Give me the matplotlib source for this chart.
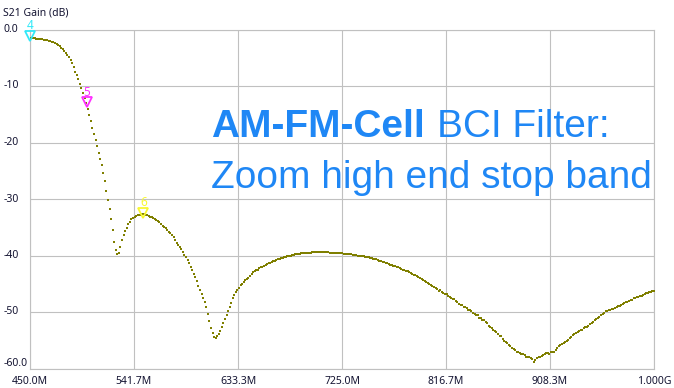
import numpy as np
import matplotlib
matplotlib.use('Agg')
import matplotlib.pyplot as plt
from matplotlib.transforms import offset_copy, blended_transform_factory

# VNA sweep, 401 points from 450 MHz to 1 GHz
start_mhz = 450.0
stop_mhz = 1000.0
freq_mhz = np.linspace(start_mhz, stop_mhz, 401)

# S21 gain (dB)
gain_db = [
    -1.5, -1.5, -1.5, -1.5, -1.6, -1.6, -1.6, -1.7, -1.7, -1.8, -1.8, -1.9, -2.0, -2.1, -2.2, -2.3, -2.4, -2.6, -2.8, -3.0,
    -3.2, -3.5, -3.8, -4.1, -4.5, -4.9, -5.4, -6.0, -6.7, -7.5, -8.1, -8.8, -9.6, -10.3, -11.2, -12.1, -13.0, -14.1, -15.1, -16.2,
    -17.4, -18.5, -19.6, -20.7, -21.8, -22.9, -24.0, -25.4, -26.9, -28.5, -30.1, -31.8, -33.5, -35.5, -37.6, -39.0, -39.8, -39.5, -38.5, -37.3,
    -36.4, -35.7, -35.1, -34.5, -34.0, -33.6, -33.3, -33.1, -33.0, -32.9, -32.8, -32.8, -32.7, -32.7, -32.8, -32.9, -33.0, -33.1, -33.2, -33.3,
    -33.5, -33.7, -33.9, -34.1, -34.4, -34.7, -35.0, -35.2, -35.5, -35.8, -36.1, -36.4, -36.7, -37.2, -37.7, -38.1, -38.5, -38.9, -39.4, -39.9,
    -40.3, -40.8, -41.4, -42.0, -42.6, -43.2, -43.8, -44.6, -45.4, -46.1, -46.8, -47.5, -48.2, -49.2, -50.4, -51.6, -52.8, -53.8, -54.4, -54.6,
    -54.3, -53.9, -53.4, -52.7, -52.0, -51.2, -50.5, -49.8, -49.2, -48.4, -47.6, -47.0, -46.5, -46.1, -45.7, -45.3, -45.0, -44.7, -44.4, -44.1,
    -43.9, -43.6, -43.3, -43.0, -42.8, -42.6, -42.5, -42.3, -42.1, -42.0, -41.8, -41.7, -41.5, -41.4, -41.3, -41.1, -41.0, -40.9, -40.8, -40.7,
    -40.6, -40.5, -40.4, -40.3, -40.2, -40.1, -40.0, -40.0, -39.9, -39.9, -39.8, -39.8, -39.7, -39.7, -39.6, -39.6, -39.6, -39.5, -39.5, -39.5,
    -39.5, -39.4, -39.4, -39.4, -39.4, -39.4, -39.4, -39.4, -39.4, -39.4, -39.4, -39.4, -39.5, -39.5, -39.5, -39.5, -39.5, -39.5, -39.6, -39.6,
    -39.6, -39.7, -39.7, -39.7, -39.8, -39.8, -39.8, -39.9, -39.9, -39.9, -40.0, -40.0, -40.0, -40.1, -40.1, -40.2, -40.3, -40.3, -40.4, -40.5,
    -40.6, -40.6, -40.7, -40.8, -40.9, -41.0, -41.1, -41.2, -41.3, -41.4, -41.5, -41.6, -41.7, -41.8, -41.9, -42.0, -42.1, -42.2, -42.4, -42.5,
    -42.6, -42.7, -42.8, -43.0, -43.1, -43.2, -43.4, -43.5, -43.6, -43.8, -44.0, -44.2, -44.3, -44.5, -44.7, -44.9, -45.1, -45.2, -45.4, -45.6,
    -45.7, -45.9, -46.2, -46.1, -46.4, -46.6, -46.8, -46.9, -47.1, -47.4, -47.5, -47.7, -47.7, -48.1, -48.3, -48.6, -48.7, -48.8, -49.1, -49.2,
    -49.3, -49.6, -49.7, -49.9, -50.1, -50.4, -50.5, -50.6, -51.0, -51.1, -51.4, -51.5, -51.8, -52.0, -52.4, -52.6, -52.8, -53.2, -53.3, -53.6,
    -53.9, -54.3, -54.3, -54.7, -55.1, -55.3, -55.5, -55.9, -56.0, -56.3, -56.6, -56.7, -57.0, -57.0, -57.2, -57.4, -57.5, -57.6, -57.9, -57.9,
    -58.0, -58.2, -58.4, -58.9, -58.5, -58.1, -58.0, -57.9, -57.7, -57.6, -57.4, -57.3, -57.2, -57.4, -57.1, -57.0, -57.1, -56.7, -56.4, -56.1,
    -55.9, -55.7, -55.5, -55.3, -55.1, -54.9, -54.6, -54.4, -54.1, -53.9, -53.7, -53.5, -53.4, -53.2, -53.1, -52.9, -52.7, -52.6, -52.4, -52.2,
    -52.0, -51.8, -51.5, -51.3, -51.1, -50.8, -50.6, -50.3, -50.1, -49.9, -49.8, -49.7, -49.6, -49.5, -49.4, -49.3, -49.2, -49.0, -48.9, -48.7,
    -48.6, -48.4, -48.3, -48.2, -48.0, -47.9, -47.8, -47.6, -47.5, -47.4, -47.3, -47.2, -47.1, -47.0, -46.8, -46.7, -46.6, -46.5, -46.4, -46.3,
    -46.2,
]

# markers 4, 5, 6
marker_names = ['4', '5', '6']
marker_freq = [450.0, 500.0, 550.0]
marker_db = [-1.5, -13.2, -32.8]
marker_colors = ['#30e8f8', '#ff30ff', '#f8f830']

x_tick_labels = ['450.0M', '541.7M', '633.3M', '725.0M', '816.7M', '908.3M', '1.000G']
y_ticks = [0, -10, -20, -30, -40, -50, -60]
y_tick_labels = ['0.0', '-10', '-20', '-30', '-40', '-50', '-60.0']

W, H = 674, 388
fig = plt.figure(figsize=(W / 100, H / 100), dpi=100)
ax = fig.add_axes([30 / W, 19.5 / H, 624 / W, 339 / H])

grid_col = '#c0c0c0'
text_col = '#141432'
ax.set_xlim(start_mhz, stop_mhz)
ax.set_ylim(-60, 0)
x_ticks = np.linspace(start_mhz, stop_mhz, len(x_tick_labels))
ax.set_xticks(x_ticks)
ax.set_yticks(y_ticks)
ax.set_xticklabels([])
ax.set_yticklabels([])
ax.tick_params(length=0)
ax.grid(True, color=grid_col, linewidth=0.8)
for s in ax.spines.values():
    s.set_color(grid_col)
    s.set_linewidth(0.8)

ax.plot(freq_mhz, gain_db, ls='none', marker='s', ms=1.8, mew=0, color='#7f7f00', zorder=3)

# markers: open triangle on the trace, number above
tri_tr = offset_copy(ax.transData, fig=fig, x=0, y=2, units='dots')
for name, f, g, c in zip(marker_names, marker_freq, marker_db, marker_colors):
    ax.plot([f], [g], marker='v', ms=6.5, mfc='none', mec=c, mew=1.3,
            transform=tri_tr, clip_on=False, zorder=4)
    ax.annotate(name, (f, g), xytext=(0, 12), textcoords='offset pixels',
                ha='center', va='center', color=c, fontsize=8.5,
                family='Noto Sans', zorder=4, annotation_clip=False)

# tick labels
ytr = blended_transform_factory(fig.transFigure, ax.transData)
for v, lab in zip(y_ticks, y_tick_labels):
    va = 'bottom' if v == -60 else 'center'
    fig.text(4 / W, v, lab, transform=ytr, ha='left', va=va,
             fontsize=7.5, family='Noto Sans', color=text_col)
xtr = blended_transform_factory(ax.transData, fig.transFigure)
for v, lab in zip(x_ticks, x_tick_labels):
    fig.text(v, 1 - 381 / H, lab, transform=xtr, ha='center', va='center',
             fontsize=7.5, family='Noto Sans', color=text_col)

fig.text(3 / W, 1 - 13 / H, 'S21 Gain (dB)', ha='left', va='center',
         fontsize=7.5, family='Noto Sans', color=text_col)

# title block
blue = '#1f87f5'
t1 = fig.text(211 / W, 1 - 137 / H, 'AM-FM-Cell', ha='left', va='baseline',
              fontsize=28, fontweight='bold', family='Liberation Sans', color=blue)
fig.canvas.draw()
bb = t1.get_window_extent(fig.canvas.get_renderer())
fig.text(bb.x1 / W + 12 / W, 1 - 137 / H, 'BCI Filter:', ha='left', va='baseline',
         fontsize=28, family='Liberation Sans', color=blue)
fig.text(211 / W, 1 - 188 / H, 'Zoom high end stop band', ha='left', va='baseline',
         fontsize=28, family='Liberation Sans', color=blue)

fig.savefig('out.png', dpi=100)
